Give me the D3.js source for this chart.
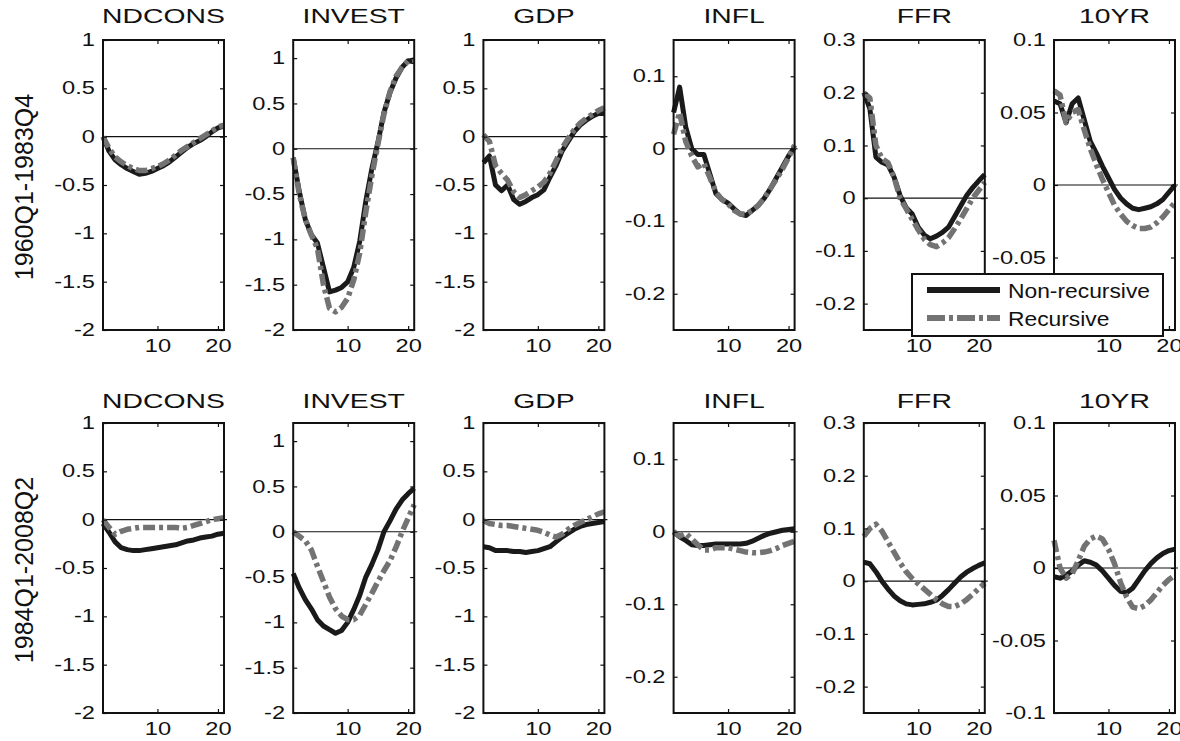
<!DOCTYPE html>
<html>
<head>
<meta charset="utf-8">
<script src="https://cdn.jsdelivr.net/npm/d3@7"></script>
<style>
  body { margin: 0; background: #fff; }
  svg { display: block; font-family: "Liberation Sans", Arial, Helvetica, sans-serif; }
</style>
</head>
<body>
<svg id="chart" width="1180" height="741"></svg>
<script>
// horizons 1..21
const horizons = d3.range(1, 22);
const variables = ["NDCONS", "INVEST", "GDP", "INFL", "FFR", "10YR"];
const periods = ["1960Q1-1983Q4", "1984Q1-2008Q2"];
const seriesNames = ["Non-recursive", "Recursive"];

// y axis setup per variable
const yDomains = [[-2, 1], [-2, 1.2], [-2, 1], [-0.25, 0.15], [-0.25, 0.3], [-0.1, 0.1]];
const yTicks = [
  [-2, -1.5, -1, -0.5, 0, 0.5, 1],
  [-2, -1.5, -1, -0.5, 0, 0.5, 1],
  [-2, -1.5, -1, -0.5, 0, 0.5, 1],
  [-0.2, -0.1, 0, 0.1],
  [-0.2, -0.1, 0, 0.1, 0.2, 0.3],
  [-0.1, -0.05, 0, 0.05, 0.1]
];
const xTicks = [10, 20];

// 1960Q1-1983Q4
const early_ndcons_nr = [0, -0.15, -0.24, -0.29, -0.33, -0.36, -0.39, -0.38, -0.36, -0.33, -0.3, -0.26, -0.21, -0.16, -0.11, -0.07, -0.04, 0.0, 0.05, 0.09, 0.11];
const early_ndcons_r = [0, -0.12, -0.21, -0.26, -0.3, -0.33, -0.35, -0.35, -0.33, -0.31, -0.28, -0.24, -0.19, -0.14, -0.1, -0.06, -0.02, 0.02, 0.06, 0.1, 0.12];
const early_invest_nr = [-0.1, -0.47, -0.78, -0.95, -1.04, -1.31, -1.58, -1.56, -1.53, -1.47, -1.31, -1.02, -0.58, -0.22, 0.07, 0.4, 0.62, 0.78, 0.9, 0.97, 0.96];
const early_invest_r = [-0.1, -0.5, -0.78, -0.95, -1.1, -1.5, -1.76, -1.8, -1.75, -1.65, -1.45, -1.15, -0.7, -0.3, 0.05, 0.38, 0.63, 0.8, 0.9, 0.97, 0.98];
const early_gdp_nr = [-0.27, -0.2, -0.5, -0.56, -0.5, -0.65, -0.7, -0.67, -0.63, -0.6, -0.55, -0.42, -0.3, -0.15, -0.05, 0.05, 0.12, 0.17, 0.21, 0.24, 0.24];
const early_gdp_r = [0.02, -0.05, -0.3, -0.38, -0.45, -0.57, -0.63, -0.6, -0.56, -0.52, -0.47, -0.38, -0.25, -0.12, -0.02, 0.07, 0.14, 0.19, 0.23, 0.27, 0.3];
const early_infl_nr = [0.05, 0.085, 0.03, 0.0, -0.008, -0.008, -0.035, -0.062, -0.07, -0.075, -0.083, -0.09, -0.092, -0.085, -0.078, -0.068, -0.055, -0.04, -0.025, -0.01, 0.002];
const early_infl_r = [0.02, 0.05, 0.01, -0.01, -0.025, -0.02, -0.04, -0.06, -0.07, -0.076, -0.085, -0.09, -0.09, -0.085, -0.078, -0.068, -0.055, -0.042, -0.028, -0.012, 0.005];
const early_ffr_nr = [0.2, 0.17, 0.078, 0.068, 0.063, 0.04, 0.005, -0.018, -0.03, -0.055, -0.07, -0.077, -0.072, -0.065, -0.055, -0.035, -0.015, 0.005, 0.02, 0.033, 0.045];
const early_ffr_r = [0.2, 0.19, 0.1, 0.075, 0.067, 0.04, 0.0, -0.02, -0.04, -0.06, -0.078, -0.088, -0.092, -0.085, -0.075, -0.058, -0.04, -0.02, 0.0, 0.015, 0.03];
const early_10yr_nr = [0.058, 0.056, 0.043, 0.056, 0.06, 0.045, 0.03, 0.022, 0.013, 0.005, -0.003, -0.009, -0.013, -0.016, -0.017, -0.016, -0.015, -0.013, -0.01, -0.005, 0.0];
const early_10yr_r = [0.065, 0.062, 0.043, 0.05, 0.052, 0.038, 0.025, 0.014, 0.004, -0.005, -0.014, -0.02, -0.025, -0.028, -0.03, -0.03, -0.029, -0.026, -0.022, -0.017, -0.012];

// 1984Q1-2008Q2
const late_ndcons_nr = [-0.04, -0.13, -0.23, -0.29, -0.31, -0.32, -0.32, -0.31, -0.3, -0.29, -0.28, -0.27, -0.26, -0.24, -0.22, -0.21, -0.19, -0.18, -0.17, -0.15, -0.14];
const late_ndcons_r = [0.0, -0.08, -0.15, -0.12, -0.1, -0.09, -0.08, -0.08, -0.08, -0.08, -0.08, -0.08, -0.08, -0.09, -0.08, -0.06, -0.04, -0.02, 0.0, 0.01, 0.02];
const late_invest_nr = [-0.46, -0.62, -0.75, -0.85, -0.97, -1.04, -1.08, -1.12, -1.09, -1.0, -0.86, -0.7, -0.5, -0.36, -0.2, 0.0, 0.12, 0.25, 0.35, 0.42, 0.48];
const late_invest_r = [0, -0.05, -0.1, -0.2, -0.38, -0.55, -0.72, -0.85, -0.93, -0.97, -0.97, -0.92, -0.8, -0.68, -0.55, -0.43, -0.32, -0.17, 0.0, 0.15, 0.3];
const late_gdp_nr = [-0.28, -0.29, -0.32, -0.32, -0.32, -0.33, -0.33, -0.34, -0.33, -0.32, -0.3, -0.28, -0.23, -0.18, -0.14, -0.1, -0.07, -0.05, -0.04, -0.03, -0.02];
const late_gdp_r = [-0.01, -0.04, -0.05, -0.06, -0.06, -0.07, -0.08, -0.09, -0.1, -0.11, -0.13, -0.16, -0.18, -0.15, -0.1, -0.06, -0.03, 0.0, 0.03, 0.06, 0.08];
const late_infl_nr = [0.0, -0.007, -0.012, -0.018, -0.019, -0.019, -0.018, -0.017, -0.017, -0.017, -0.017, -0.017, -0.016, -0.013, -0.009, -0.005, -0.002, 0.0, 0.002, 0.003, 0.004];
const late_infl_r = [0.0, -0.006, -0.002, -0.01, -0.018, -0.025, -0.025, -0.022, -0.022, -0.022, -0.024, -0.026, -0.028, -0.029, -0.029, -0.028, -0.026, -0.023, -0.019, -0.016, -0.013];
const late_ffr_nr = [0.036, 0.033, 0.018, 0.0, -0.015, -0.028, -0.037, -0.043, -0.045, -0.044, -0.043, -0.04, -0.036, -0.027, -0.016, -0.004, 0.008, 0.017, 0.024, 0.03, 0.035];
const late_ffr_r = [0.085, 0.1, 0.108, 0.095, 0.075, 0.055, 0.035, 0.018, 0.005, -0.005, -0.015, -0.025, -0.035, -0.043, -0.048, -0.048, -0.043, -0.035, -0.025, -0.014, -0.004];
const late_10yr_nr = [-0.006, -0.007, -0.005, -0.002, 0.002, 0.005, 0.004, 0.002, -0.002, -0.007, -0.012, -0.016, -0.017, -0.014, -0.008, -0.002, 0.003, 0.007, 0.01, 0.012, 0.013];
const late_10yr_r = [0.019, 0.0, -0.007, -0.004, 0.005, 0.015, 0.02, 0.022, 0.02, 0.013, 0.003, -0.01, -0.02, -0.027, -0.028, -0.026, -0.022, -0.017, -0.012, -0.008, -0.005];

// rows x columns -> [non-recursive, recursive]
const table = [
  [[early_ndcons_nr, early_ndcons_r], [early_invest_nr, early_invest_r], [early_gdp_nr, early_gdp_r],
   [early_infl_nr, early_infl_r], [early_ffr_nr, early_ffr_r], [early_10yr_nr, early_10yr_r]],
  [[late_ndcons_nr, late_ndcons_r], [late_invest_nr, late_invest_r], [late_gdp_nr, late_gdp_r],
   [late_infl_nr, late_infl_r], [late_ffr_nr, late_ffr_r], [late_10yr_nr, late_10yr_r]]
];

const svg = d3.select("#chart");

// layout
const panelW = 121, panelH = 290;
const panelX0 = 103, panelStep = 190.2;
const rowTops = [40, 423];
const titleGap = [17, 15];
const sx = 1.35; // glyphs in the figure are stretched horizontally
const ink = "#111";

const styles = [
  { color: "#1a1a1a", width: 5, dash: null },
  { color: "#737373", width: 5.5, dash: "12,4,4,4" }
];

periods.forEach((period, r) => {
  const top = rowTops[r];

  svg.append("text")
    .attr("transform", `translate(33, ${top + panelH / 2 + 2}) rotate(-90)`)
    .attr("text-anchor", "middle")
    .attr("font-size", 25)
    .attr("fill", ink)
    .text(period);

  variables.forEach((v, c) => {
    const left = panelX0 + c * panelStep;
    const x = d3.scaleLinear().domain([1, 21]).range([left, left + panelW]);
    const y = d3.scaleLinear().domain(yDomains[c]).range([top + panelH, top]);
    const g = svg.append("g");

    // title
    g.append("text")
      .attr("transform", `translate(${left + panelW / 2}, ${top - titleGap[r]}) scale(${sx},1)`)
      .attr("text-anchor", "middle")
      .attr("font-size", 21)
      .attr("fill", ink)
      .text(v);

    // zero line
    g.append("line")
      .attr("x1", x(1)).attr("x2", x(21) + 3)
      .attr("y1", y(0)).attr("y2", y(0))
      .attr("stroke", ink).attr("stroke-width", 1.2);

    // series
    const line = d3.line().x((d, i) => x(horizons[i])).y(d => y(d));
    table[r][c].forEach((vals, s) => {
      g.append("path")
        .datum(vals)
        .attr("d", line)
        .attr("fill", "none")
        .attr("stroke", styles[s].color)
        .attr("stroke-width", styles[s].width)
        .attr("stroke-dasharray", styles[s].dash)
        .attr("stroke-linejoin", "round");
    });

    // axes with inward ticks
    const yAx = g.append("g")
      .attr("transform", `translate(${left},0)`)
      .call(d3.axisLeft(y).tickValues(yTicks[c]).tickSize(-4).tickPadding(6).tickFormat(d => String(d)));
    yAx.selectAll("text")
      .attr("transform", `scale(${sx},1)`)
      .attr("font-size", 17.5)
      .attr("fill", ink);

    g.append("g")
      .attr("transform", `translate(${left + panelW},0)`)
      .call(d3.axisRight(y).tickValues(yTicks[c]).tickSize(-4).tickFormat(""));

    const xAx = g.append("g")
      .attr("transform", `translate(0,${top + panelH})`)
      .call(d3.axisBottom(x).tickValues(xTicks).tickSize(-4).tickPadding(10).tickFormat(d => String(d)));
    xAx.selectAll("text")
      .attr("transform", `scale(${sx},1)`)
      .attr("font-size", 17.5)
      .attr("fill", ink);

    g.append("g")
      .attr("transform", `translate(0,${top})`)
      .call(d3.axisTop(x).tickValues(xTicks).tickSize(-4).tickFormat(""));

    g.selectAll(".domain").remove();
    g.selectAll(".tick line").attr("stroke", ink).attr("stroke-width", 1.2);

    // frame
    g.append("rect")
      .attr("x", left).attr("y", top)
      .attr("width", panelW).attr("height", panelH)
      .attr("fill", "none")
      .attr("stroke", ink)
      .attr("stroke-width", 2);
  });
});

// legend
const legend = svg.append("g").attr("transform", "translate(912,274)");
legend.append("rect")
  .attr("width", 251).attr("height", 62)
  .attr("fill", "#fff")
  .attr("stroke", ink)
  .attr("stroke-width", 2);

seriesNames.forEach((name, i) => {
  const yy = 16 + i * 28;
  legend.append("line")
    .attr("x1", 15).attr("x2", 88)
    .attr("y1", yy).attr("y2", yy)
    .attr("stroke", styles[i].color)
    .attr("stroke-width", 6)
    .attr("stroke-dasharray", i === 1 ? "18,4,4,4" : null);
  legend.append("text")
    .attr("transform", `translate(96, ${yy + 8}) scale(1.17,1)`)
    .attr("font-size", 19.5)
    .attr("fill", ink)
    .text(name);
});
</script>
</body>
</html>
